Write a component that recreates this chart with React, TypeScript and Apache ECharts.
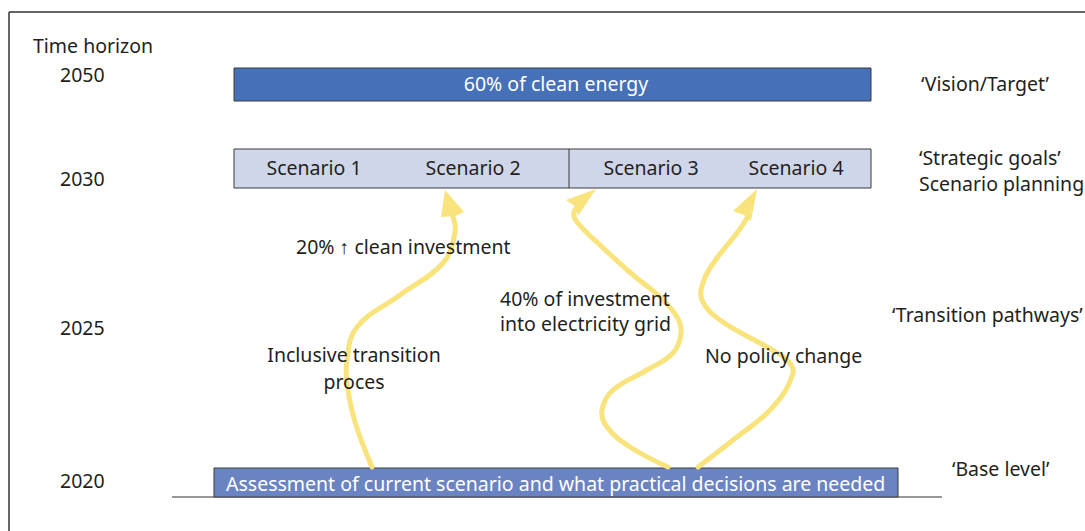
import React, { useEffect, useRef } from "react";
import * as echarts from "echarts";

// ---- content ----
const axisTitle = "Time horizon";
const years = ["2050", "2030", "2025", "2020"];
const visionText = "60% of clean energy";
const scenarios = ["Scenario 1", "Scenario 2", "Scenario 3", "Scenario 4"];
const baseText = "Assessment of current scenario and what practical decisions are needed";
const levelLabels = ["\u2018Vision/Target\u2019", "\u2018Strategic goals\u2019\nScenario planning", "\u2018Transition pathways\u2019", "\u2018Base level\u2019"];
const pathwayLabels = [
  "20% \u2191 clean investment",
  "40% of investment\ninto electricity grid",
  "Inclusive transition\nproces",
  "No policy change",
];

// ---- layout (pixels) ----
const FONT = "'Noto Sans', sans-serif";
const TXT = "#231f20";
const YELLOW = "#f9e37c";
const SIZE = 19.5;
const yearY = [74, 178, 327, 480];
const scenarioX = [314, 473, 651, 796];

const curves: number[][][] = [
  [[372, 467], [356, 425], [348, 390], [347, 360], [357, 327], [400, 295], [443, 263], [455, 232], [452, 214]],
  [[668, 467], [630, 447], [607, 427], [602, 410], [613, 390], [647, 370], [673, 353], [681, 333], [677, 317], [660, 297], [633, 275], [600, 245], [577, 222], [574, 212], [582, 204]],
  [[698, 467], [733, 440], [773, 407], [793, 373], [787, 360], [767, 347], [720, 320], [702, 300], [704, 280], [717, 258], [737, 233], [747, 218]],
];
const arrowHeads: number[][][] = [
  [[445, 190], [464, 212], [455, 216], [441, 217]],
  [[596, 189], [578, 216], [576, 207], [566, 200]],
  [[757, 189], [751, 221], [744, 215], [733, 211]],
];

export default function App() {
  const ref = useRef<HTMLDivElement>(null);
  useEffect(() => {
    if (!ref.current) return;
    const chart = echarts.init(ref.current, null, { renderer: "svg" });
    const text = (t: string, x: number, y: number, opts: any = {}) => ({
      type: "text",
      x,
      y,
      z: 10,
      style: {
        text: t,
        fill: opts.fill || TXT,
        font: `${opts.size || SIZE}px ${FONT}`,
        textAlign: opts.align || "left",
        textVerticalAlign: "middle",
        lineHeight: opts.lh || 26,
      },
    });
    const graphic: any[] = [
      // frame
      { type: "line", shape: { x1: 9, y1: 12, x2: 1085, y2: 12 }, style: { stroke: "#333", lineWidth: 1.5 } },
      { type: "line", shape: { x1: 9, y1: 12, x2: 9, y2: 531 }, style: { stroke: "#333", lineWidth: 1.5 } },
      // baseline
      { type: "line", shape: { x1: 172, y1: 497, x2: 942, y2: 497 }, style: { stroke: "#333", lineWidth: 1 } },
      // vision bar
      { type: "rect", shape: { x: 234, y: 68, width: 637, height: 33 }, style: { fill: "#4670b7", stroke: "#3a3a3a", lineWidth: 1 } },
      // scenario box
      { type: "rect", shape: { x: 234, y: 149, width: 637, height: 39 }, style: { fill: "#d0d6ea", stroke: "#3a3a3a", lineWidth: 1 } },
      { type: "line", shape: { x1: 569, y1: 149, x2: 569, y2: 188 }, style: { stroke: "#3a3a3a", lineWidth: 1 } },
      // base bar
      { type: "rect", shape: { x: 214, y: 468, width: 684, height: 29 }, style: { fill: "#6a84c3", stroke: "#3a3a3a", lineWidth: 1 } },
    ];
    curves.forEach((pts) => {
      graphic.push({ type: "polyline", shape: { points: pts, smooth: 0.4 }, style: { stroke: YELLOW, lineWidth: 5, fill: null, lineCap: "round" } });
    });
    arrowHeads.forEach((pts) => {
      graphic.push({ type: "polygon", shape: { points: pts }, style: { fill: YELLOW } });
    });
    graphic.push(text(axisTitle, 33, 45));
    years.forEach((y, i) => graphic.push(text(y, 60, yearY[i])));
    graphic.push(text(visionText, 556, 83, { align: "center", fill: "#ffffff" }));
    scenarios.forEach((s, i) => graphic.push(text(s, scenarioX[i], 167, { align: "center" })));
    graphic.push(text(baseText, 226, 483, { fill: "#ffffff" }));
    graphic.push(text(levelLabels[0], 921, 83));
    graphic.push(text(levelLabels[1], 919, 170));
    graphic.push(text(levelLabels[2], 892, 314));
    graphic.push(text(levelLabels[3], 952, 468));
    graphic.push(text(pathwayLabels[0], 296, 246));
    graphic.push(text(pathwayLabels[1], 500, 311, { lh: 25 }));
    graphic.push(text(pathwayLabels[2], 354, 368, { align: "center", lh: 27 }));
    graphic.push(text(pathwayLabels[3], 705, 355));

    chart.setOption({ animation: false, backgroundColor: "#ffffff", graphic });
    return () => chart.dispose();
  }, []);
  return <div ref={ref} style={{ position: "fixed", left: 0, top: 0, width: 1085, height: 531 }} />;
}
